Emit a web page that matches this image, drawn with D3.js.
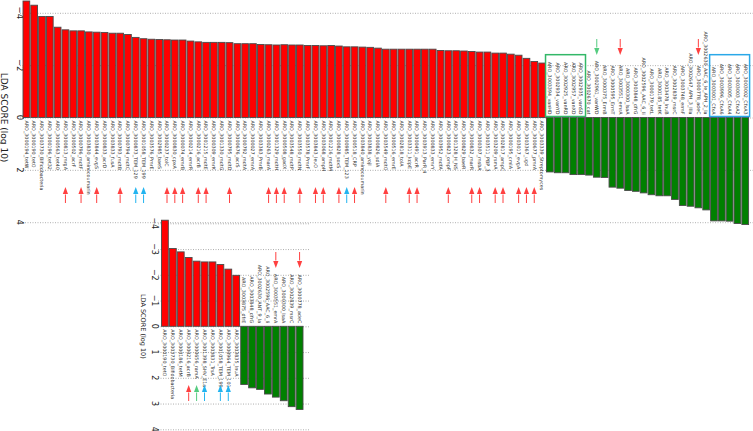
<!DOCTYPE html>
<html>
<head>
<meta charset="utf-8">
<title>LDA</title>
<script src="https://d3js.org/d3.v7.min.js"></script>
<style>
  body { margin: 0; background: #fff; }
  text { font-family: "DejaVu Sans", sans-serif; }
</style>
</head>
<body>
<div class="chart"></div>
<script>
// ---- top panel data ----
var topRedNames = [
  'ARO_3000194_tetW', 'ARO_3000190_tetO', 'ARO_3003730_Bifidobacteria', 'ARO_3000196_tet32', 'ARO_3000563_tet40',
  'ARO_3000813_mrgA', 'ARO_3000502_acrF', 'ARO_3000796_mdtF', 'ARO_3003830_aminocoumarin', 'ARO_3003844_evgS',
  'ARO_3000833_acrD', 'ARO_3003833_fusA', 'ARO_3000793_mdtB', 'ARO_3000794_mdtC', 'ARO_3000873_TEM_129',
  'ARO_3001058_TEM_199', 'ARO_3003576_PmrE', 'ARO_3002985_baeS', 'ARO_3000237_tolC', 'ARO_3000830_cpxA',
  'ARO_3000074_emrB', 'ARO_3000214_emrR', 'ARO_3000216_acrB', 'ARO_3001215_mdtE', 'ARO_3000309_emrK',
  'ARO_3001330_mdtG', 'ARO_3000795_mdtD', 'ARO_3000676_acrS', 'ARO_3000792_mdtA', 'ARO_3000027_emrA',
  'ARO_3003383_PmrB', 'ARO_3000263_marA', 'ARO_3001329_mdtH', 'ARO_3000508_gadX', 'ARO_3003548_mdtP',
  'ARO_3003550_mdtN', 'ARO_3003578_PmrF', 'ARO_3003843_leuO', 'ARO_3003068_ampH', 'ARO_3001216_mdtM',
  'ARO_3000828_soxS', 'ARO_3000985_TEM_123', 'ARO_3000518_CRP', 'ARO_3003840_aminocoumarin', 'ARO_3003838_yojI',
  'ARO_3000826_sdiA', 'ARO_3003549_mdtO', 'ARO_3000516_emrE', 'ARO_3002818_tolA', 'ARO_3003311_kdpE',
  'ARO_3000491_acrR', 'ARO_3003913_ParR_4', 'ARO_3000833_emrY', 'ARO_3003952_mdfA', 'ARO_3000823_ompF',
  'ARO_3001328_H_NS', 'ARO_3000829_baeR', 'ARO_3000832_marR', 'ARO_3000307_msbA', 'ARO_3003511_PBP_3',
  'ARO_3003209_rsmA', 'ARO_3002817_ampC', 'ARO_3000195_cmlA', 'ARO_3003017_evgA', 'ARO_3003367_ugd',
  'ARO_3000677_pmrA', 'ARO_3003339_Streptomyces'
];
var topRedValues = [
  4.45, 4.29, 3.86, 3.86, 3.45, 3.35, 3.31, 3.31, 3.27, 3.26,
  3.25, 3.22, 3.22, 3.17, 3.06, 3.01, 2.99, 2.98, 2.97, 2.96,
  2.96, 2.92, 2.89, 2.87, 2.87, 2.87, 2.86, 2.82, 2.82, 2.82,
  2.79, 2.78, 2.77, 2.78, 2.77, 2.77, 2.75, 2.75, 2.74, 2.75,
  2.73, 2.70, 2.70, 2.69, 2.68, 2.65, 2.61, 2.61, 2.61, 2.61,
  2.61, 2.61, 2.61, 2.56, 2.55, 2.55, 2.54, 2.52, 2.50, 2.50,
  2.46, 2.46, 2.42, 2.38, 2.26, 2.14, 2.08
];
var topGreenNames = [
  'ARO_3003394_vanHD', 'ARO_3002934_vanYD', 'ARO_3002925_vanRD', 'ARO_3002957_vanXD', 'ARO_3002935_vanSD',
  'ARO_3002670_cat', 'ARO_3002961_vanWD', 'ARO_3000375_ErmB', 'ARO_3000595_ErmT', 'ARO_3003551_emrA',
  'ARO_3000300_lsaA', 'ARO_3003848_dfrG', 'ARO_3002596_AAC_6_Ii', 'ARO_3000179_tetL', 'ARO_3000185_tetK',
  'ARO_3003478_lnuB', 'ARO_3002839_msrC', 'ARO_3003748_ermF', 'ARO_3002647_APH_3_IIIa', 'ARO_3000778_adeC',
  'ARO_3002630_AAC_6_Ie_APH_2_Ia', 'ARO_3003001_CfxA', 'ARO_3003996_CfxA6', 'ARO_3003005_CfxA4', 'ARO_3003003_CfxA2'
].concat(['ARO_3003002_CfxA3']);
var topGreenValues = [
  2.08, 2.11, 2.11, 2.18, 2.18, 2.20, 2.28, 2.29, 2.66, 2.70,
  2.79, 2.82, 2.88, 2.95, 2.99, 2.99, 3.13, 3.36, 3.39, 3.45,
  3.53, 3.95, 3.95, 3.96, 4.05, 4.09
];
var topTicks = [-4, -2, 0, 2, 4];

// arrows (bar positions in the top panel, red bars counted first)
var topUpRed = [5, 7, 9, 12, 18, 19, 20, 22, 23, 26, 31, 32, 33, 35, 37, 38, 40, 42, 46, 49, 50, 54, 57, 58, 60, 61, 63, 64, 65];
var topUpBlue = [14, 15, 41];
var topDownRed = [76, 86];
var topDownGreen = [73];
var topGreenBox = [67, 71];
var topBlueBox = [88, 92];

// ---- bottom panel data ----
var botRedNames = [
  'ARO_3000190_tetO', 'ARO_3003730_Bifidobacteria', 'ARO_3000186_tetM', 'ARO_3000216_acrB', 'ARO_3000656_ramA',
  'ARO_3001398_SHV_E1a', 'ARO_3003831_TrsA', 'ARO_3001058_TEM_199', 'ARO_3000964_TEM_101', 'ARO_3003835_lnuA'
];
var botRedValues = [4.12, 3.02, 2.89, 2.67, 2.53, 2.50, 2.50, 2.40, 2.22, 1.98];
var botGreenNames = [
  'ARO_3003875_dfrE', 'ARO_3003848_dfrG', 'ARO_3002630_ANT_9_Ia', 'ARO_3002596_AAC_6_Ii',
  'ARO_3003551_emrA', 'ARO_3000300_lsaA', 'ARO_3002839_msrC', 'ARO_3000778_adeC'
];
var botGreenValues = [2.26, 2.39, 2.45, 2.63, 2.75, 2.89, 3.12, 3.23];
var botTicks = [-4, -3, -2, -1, 0, 1, 2, 3, 4];
var botUpRed = [3];
var botUpGreen = [4];
var botUpBlue = [5, 7, 8];
var botDownRed = [14, 17];

var width = 753, height = 431;
var RED = '#ff0000', GREEN = '#008000';
var A_RED = '#ff4040', A_BLUE = '#22b4f0', A_GREEN = '#55cc80';

var svg = d3.select('.chart').append('svg')
  .attr('width', width).attr('height', height);

function rows(names, values, sign, cls) {
  return names.map(function (n, i) { return { name: n, value: sign * values[i], cls: cls }; });
}

function arrow(g, x, yTip, len, dir, color) {
  // dir = -1 points up, 1 points down
  var head = 7;
  g.append('line')
    .attr('x1', x).attr('x2', x)
    .attr('y1', yTip - dir * head + 0.5 * -dir).attr('y2', yTip - dir * len)
    .attr('stroke', color).attr('stroke-width', 1);
  g.append('path')
    .attr('d', 'M' + x + ',' + yTip + 'L' + (x - 2.6) + ',' + (yTip - dir * head) + 'L' + (x + 2.6) + ',' + (yTip - dir * head) + 'Z')
    .attr('fill', color);
}

function panel(opt) {
  var data = rows(opt.redNames, opt.redValues, -1, 'r').concat(rows(opt.greenNames, opt.greenValues, 1, 'g'));
  var x = d3.scaleBand().domain(d3.range(data.length)).range(opt.xRange).paddingInner(0.14);
  var y = d3.scaleLinear().domain([-4, 4]).range(opt.yRange);
  var g = svg.append('g');

  // grid
  g.selectAll('.grid').data(opt.ticks).enter().append('line')
    .attr('x1', opt.gridX[0]).attr('x2', opt.gridX[1])
    .attr('y1', function (d) { return y(d) + 0.5; }).attr('y2', function (d) { return y(d) + 0.5; })
    .attr('stroke', '#b0b0b0').attr('stroke-width', 1).attr('stroke-dasharray', '1,1.5');

  // tick labels
  g.selectAll('.tick').data(opt.ticks).enter().append('text')
    .attr('transform', function (d) { return 'translate(' + opt.tickX + ',' + y(d) + ') rotate(90)'; })
    .attr('text-anchor', 'middle').attr('dy', '0.35em')
    .style('font-size', opt.tickSize + 'px').attr('fill', '#222')
    .text(function (d) { return d < 0 ? '\u2212' + Math.abs(d) : d; });

  // axis title
  g.append('text')
    .attr('transform', 'translate(' + opt.titleX + ',' + y(0) + ') rotate(90)')
    .attr('text-anchor', 'middle').attr('dy', '0.35em')
    .style('font-size', opt.titleSize + 'px').attr('fill', '#222')
    .text('LDA SCORE (log 10)');

  // bars
  g.selectAll('.bar').data(data).enter().append('rect')
    .attr('x', function (d, i) { return x(i); })
    .attr('width', x.bandwidth())
    .attr('y', function (d) { return Math.min(y(d.value), y(0)); })
    .attr('height', function (d) { return Math.abs(y(d.value) - y(0)); })
    .attr('fill', function (d) { return d.cls === 'r' ? RED : GREEN; })
    .attr('stroke', '#4a4a4a').attr('stroke-width', 0.9);

  // bar labels
  g.selectAll('.lab').data(data).enter().append('text')
    .attr('transform', function (d, i) {
      var yy = d.cls === 'r' ? y(0) + 3 : y(0) - 3;
      return 'translate(' + (x(i) + x.bandwidth() / 2) + ',' + yy + ') rotate(90)';
    })
    .attr('text-anchor', function (d) { return d.cls === 'r' ? 'start' : 'end'; })
    .attr('dy', '0.35em')
    .style('font-size', opt.labSize + 'px').attr('fill', '#333')
    .text(function (d) { return d.name; });

  var cx = function (i) { return x(i) + x.bandwidth() / 2; };
  opt.upRed.forEach(function (i) { arrow(g, cx(i), opt.upY, 16, -1, A_RED); });
  opt.upBlue.forEach(function (i) { arrow(g, cx(i), opt.upY, 16, -1, A_BLUE); });
  (opt.upGreen || []).forEach(function (i) { arrow(g, cx(i), opt.upY, 16, -1, A_GREEN); });
  opt.downRed.forEach(function (i) { arrow(g, cx(i), opt.downY, 16, 1, A_RED); });
  (opt.downGreen || []).forEach(function (i) { arrow(g, cx(i), opt.downY, 16, 1, A_GREEN); });

  (opt.boxes || []).forEach(function (b) {
    g.append('rect')
      .attr('x', x(b.range[0]) - 1).attr('width', x(b.range[1]) + x.bandwidth() - x(b.range[0]) + 2)
      .attr('y', y(b.top)).attr('height', y(0) - y(b.top) - 1)
      .attr('fill', 'none').attr('stroke', b.color).attr('stroke-width', 1.5);
  });
}

panel({
  redNames: topRedNames, redValues: topRedValues,
  greenNames: topGreenNames, greenValues: topGreenValues,
  xRange: [23, 748.6], yRange: [12.8, 222.2], gridX: [20, 753],
  ticks: topTicks, tickX: 20, tickSize: 8.5, titleX: 4, titleSize: 9, labSize: 4.8,
  upRed: topUpRed, upBlue: topUpBlue, upY: 187,
  downRed: topDownRed.map(function (i) { return i; }), downGreen: topDownGreen, downY: 55,
  boxes: [
    { range: topGreenBox, top: -2.4, color: '#33b868' },
    { range: topBlueBox, top: -2.4, color: '#2aa8e8' }
  ]
});

panel({
  redNames: botRedNames, redValues: botRedValues,
  greenNames: botGreenNames, greenValues: botGreenValues,
  xRange: [161.5, 303], yRange: [223.3, 429.3], gridX: [158, 310],
  ticks: botTicks, tickX: 155, tickSize: 8, titleX: 143, titleSize: 6.5, labSize: 4.8,
  upRed: botUpRed, upBlue: botUpBlue, upGreen: botUpGreen, upY: 385,
  downRed: botDownRed, downY: 268
});
</script>
</body>
</html>
